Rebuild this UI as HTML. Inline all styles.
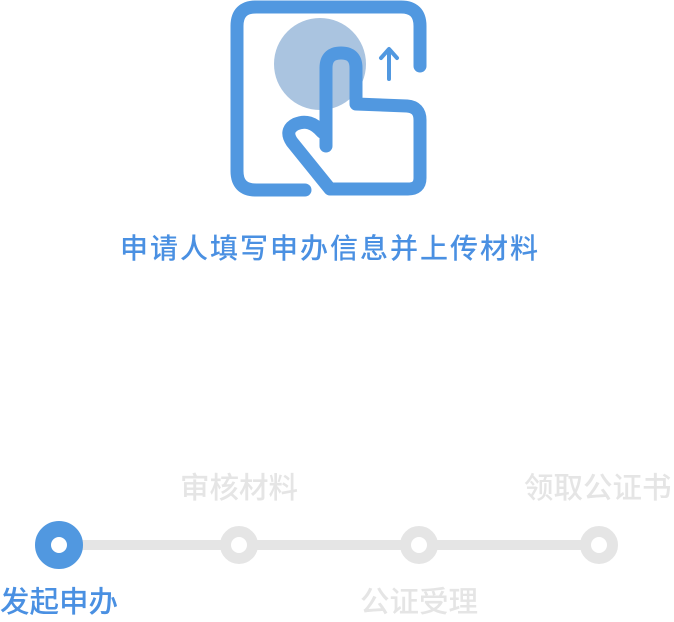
<!DOCTYPE html>
<html><head><meta charset="utf-8"><style>
body{margin:0;width:674px;height:622px;background:#fff;overflow:hidden;position:relative;font-family:"Liberation Sans","Noto Sans CJK SC",sans-serif}
.t{position:absolute;white-space:nowrap;line-height:1}
</style></head><body>
<svg width="674" height="622" style="position:absolute;left:0;top:0">
<circle cx="320" cy="64" r="46" fill="#aac4e0"/>
<path d="M305 190 L256 190 Q237 190 237 171 L237 26 Q237 7 256 7 L401 7 Q420 7 420 26 L420 66" fill="none" stroke="#5198e0" stroke-width="13" stroke-linecap="round"/>
<path d="M389 79 L389 50 M381 58 L389 49 L397 58" fill="none" stroke="#5198e0" stroke-width="4" stroke-linecap="round" stroke-linejoin="round"/>
<path d="M326 146 L326 68 Q326 53 341 53 Q356 53 356 68 L356 104 L407 106 Q420 107 420 120 L420 178 Q420 189 408 189 L330 189 L292 142 Q284 130 296 124 Q310 118 322 132" fill="none" stroke="#5198e0" stroke-width="13" stroke-linejoin="round" stroke-linecap="round"/>
<rect x="59" y="540" width="540" height="10" fill="#e5e5e5"/>
<circle cx="59" cy="545" r="16" fill="#fff" stroke="#5198e0" stroke-width="16"/>
<circle cx="239" cy="545" r="13.5" fill="#fff" stroke="#e5e5e5" stroke-width="11"/>
<circle cx="419" cy="545" r="13.5" fill="#fff" stroke="#e5e5e5" stroke-width="11"/>
<circle cx="599" cy="545" r="13.5" fill="#fff" stroke="#e5e5e5" stroke-width="11"/>
</svg>
<div class="t" style="left:120px;top:235px;font-size:28px;letter-spacing:2px;color:#4a90e2;font-weight:500">申请人填写申办信息并上传材料</div>
<div class="t" style="left:180px;top:474px;font-size:29.5px;color:#e5e5e5;font-weight:500">审核材料</div>
<div class="t" style="left:524px;top:474px;font-size:29.5px;color:#e5e5e5;font-weight:500">领取公证书</div>
<div class="t" style="left:0px;top:588px;font-size:29.5px;color:#4a90e2;font-weight:500">发起申办</div>
<div class="t" style="left:360px;top:588px;font-size:29.5px;color:#e5e5e5;font-weight:500">公证受理</div>
</body></html>
